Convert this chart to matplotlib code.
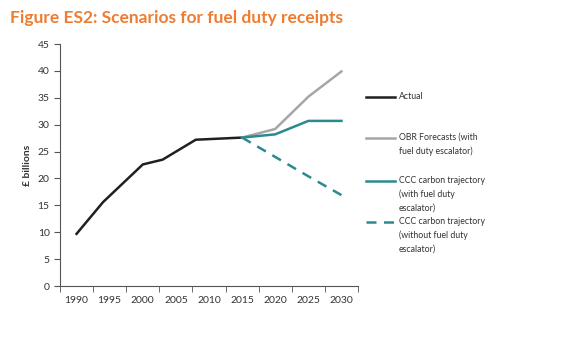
import matplotlib
matplotlib.use("Agg")
import matplotlib.pyplot as plt
from matplotlib.lines import Line2D

# data
actual_years = [1990, 1994, 2000, 2003, 2008, 2015]
actual_vals = [9.7, 15.6, 22.6, 23.5, 27.2, 27.6]

proj_years = [2015, 2020, 2025, 2030]
obr_vals = [27.6, 29.2, 35.2, 39.9]
ccc_with_vals = [27.6, 28.2, 30.7, 30.7]
ccc_without_vals = [27.6, 24.0, 20.4, 16.9]

label_years = [1990, 1995, 2000, 2005, 2010, 2015, 2020, 2025, 2030]
y_ticks = list(range(0, 50, 5))

legend_labels = [
    "Actual",
    "OBR Forecasts (with\nfuel duty escalator)",
    "CCC carbon trajectory\n(with fuel duty\nescalator)",
    "CCC carbon trajectory\n(without fuel duty\nescalator)",
]

BLACK = "#231f20"
GREY = "#a6a6a6"
TEAL = "#2b8a8f"
ORANGE = "#ee7d31"
TEXT = "#333333"

plt.rcParams["font.family"] = ["Lato", "DejaVu Sans"]

W, H = 570, 344
fig = plt.figure(figsize=(W / 100, H / 100), dpi=100)
ax = fig.add_axes([60 / W, 1 - 286 / H, (358 - 60) / W, (286 - 44) / H])

ax.plot(actual_years, actual_vals, color=BLACK, lw=1.8, solid_joinstyle="miter")
ax.plot(proj_years, obr_vals, color=GREY, lw=1.8)
ax.plot(proj_years, ccc_with_vals, color=TEAL, lw=1.8)
ax.plot(proj_years, ccc_without_vals, color=TEAL, lw=1.8, dashes=(4, 3))

ax.set_xlim(1987.5, 2032.5)
ax.set_ylim(0, 45)
ax.set_xticks(label_years)
ax.set_xticklabels([str(y) for y in label_years])
ax.set_xticks([1987.5 + 5 * i for i in range(10)], minor=True)
ax.tick_params(axis="x", which="major", length=0, pad=7, labelsize=7.5, labelcolor=TEXT)
ax.tick_params(axis="x", which="minor", length=4, direction="out", color="#555555")
ax.set_yticks(y_ticks)
ax.tick_params(axis="y", length=4, direction="out", labelsize=7.5, labelcolor=TEXT, color="#555555")

for s in ["top", "right"]:
    ax.spines[s].set_visible(False)
for s in ["left", "bottom"]:
    ax.spines[s].set_color("#555555")
    ax.spines[s].set_linewidth(0.8)

ax.set_ylabel("£ billions", fontsize=7.5, fontweight="bold", color=TEXT, labelpad=4)

fig.text(10 / W, 1 - 18 / H, "Figure ES2: Scenarios for fuel duty receipts",
         fontsize=12.5, fontweight="bold", color=ORANGE, va="center", ha="left")

# manual legend
styles = [
    dict(color=BLACK),
    dict(color=GREY),
    dict(color=TEAL),
    dict(color=TEAL, dashes=(4, 3)),
]
ys = [97, 138, 181, 222]
for lab, st, y in zip(legend_labels, styles, ys):
    fig.add_artist(Line2D([366 / W, 395 / W], [1 - y / H, 1 - y / H], lw=1.8, **st))
    fig.text(399 / W, 1 - (y - 5) / H, lab, fontsize=6.3, color=TEXT,
             va="top", ha="left", linespacing=1.6)

fig.savefig("out.png", dpi=100)
